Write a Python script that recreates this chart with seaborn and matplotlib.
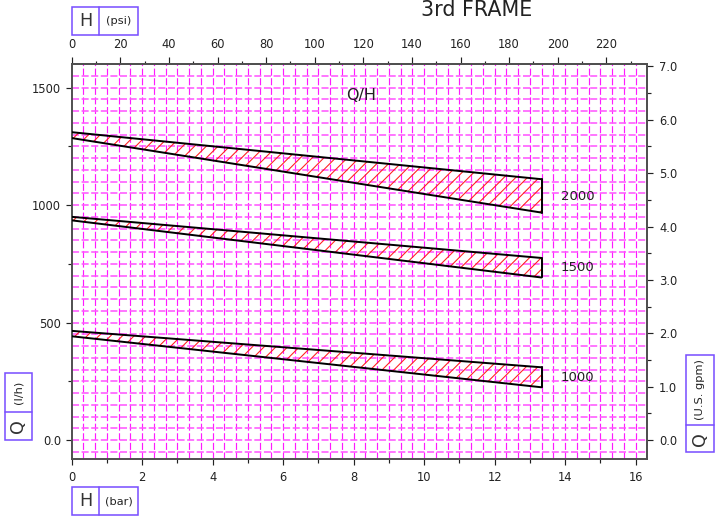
import numpy as np
import pandas as pd
import matplotlib
matplotlib.use("Agg")
import matplotlib.pyplot as plt
from matplotlib.patches import Rectangle
from matplotlib.lines import Line2D
from matplotlib.ticker import MultipleLocator, FuncFormatter
import seaborn as sns

# ---------------- data ----------------
curve_labels = ["2000", "1500", "1000"]
bar_start = [0.0, 0.0, 0.0]
bar_end = [13.33, 13.33, 13.33]
upper_start = [1310, 950, 465]
upper_end = [1110, 775, 310]
lower_start = [1285, 935, 442]
lower_end = [968, 692, 225]
label_bar = [14.35, 14.35, 14.35]
label_lph = [1035, 736, 268]

PSI_PER_BAR = 14.5038
LPH_PER_GPM = 227.1247

# ---------------- style ----------------
sns.set_style("white")
plt.rcParams["font.family"] = ["DejaVu Sans"]
plt.rcParams["hatch.color"] = "#ff2020"
plt.rcParams["hatch.linewidth"] = 0.55
plt.rcParams["lines.scale_dashes"] = False

W, H, DPI = 715, 516, 141
fig = plt.figure(figsize=(W / DPI, H / DPI), dpi=DPI)
fig.patch.set_facecolor("white")

def fx(x):
    return x / W

def fy(y):
    return 1 - y / H

L, R, T, B = 71.7, 647.3, 64.0, 459.0
ax = fig.add_axes([fx(L), fy(B), (R - L) / W, (B - T) / H])
ax.set_facecolor("white")
ax.set_xlim(0, 16.33)
ax.set_ylim(-80, 1600)

# grid (magenta dashed)
grid_color_v = "#ff1aff"
grid_color_h = "#ff55ff"
dash = (0, (3.6, 1.3))
ax.vlines(np.arange(1 / 3, 16.33, 1 / 3), -80, 1600, colors=grid_color_v,
          linewidth=0.6, linestyles=[dash], zorder=1)
ax.hlines(np.arange(-50, 1600, 50), 0, 16.33, colors=grid_color_h,
          linewidth=0.8, linestyles=[dash], zorder=1)

# bands
for i, lab in enumerate(curve_labels):
    xs = [bar_start[i], bar_end[i]]
    up = [upper_start[i], upper_end[i]]
    lo = [lower_start[i], lower_end[i]]
    ax.fill_between(xs, lo, up, facecolor="none", edgecolor="#ff2020",
                    hatch="////", linewidth=0, zorder=2)
    df_up = pd.DataFrame({"bar": xs, "lph": up})
    df_lo = pd.DataFrame({"bar": xs, "lph": lo})
    df_end = pd.DataFrame({"bar": [bar_end[i], bar_end[i]], "lph": [lo[1], up[1]]})
    for d in (df_up, df_lo, df_end):
        sns.lineplot(data=d, x="bar", y="lph", ax=ax, color="black",
                     linewidth=1.0, sort=False, estimator=None, zorder=3)
    ax.text(label_bar[i], label_lph[i], lab, ha="center", va="center",
            fontsize=6.8, color="#222222", zorder=4)

ax.text(8.2, 1467, "Q/H", ha="center", va="center", fontsize=8.2,
        color="#222222", zorder=4)
ax.set_xlabel("")
ax.set_ylabel("")

spine_c = "#505050"
for s in ax.spines.values():
    s.set_color(spine_c)
    s.set_linewidth(1.0)
    s.set_visible(True)

# primary axes ticks
ax.xaxis.set_major_locator(MultipleLocator(2))
ax.xaxis.set_minor_locator(MultipleLocator(1))
ax.xaxis.set_major_formatter(FuncFormatter(lambda v, p: f"{int(round(v))}"))
ax.yaxis.set_major_locator(MultipleLocator(500))
ax.yaxis.set_minor_locator(MultipleLocator(250))
ax.yaxis.set_major_formatter(FuncFormatter(lambda v, p: "0.0" if abs(v) < 1e-9 else f"{int(round(v))}"))
ax.tick_params(axis="both", which="major", direction="out", length=3.0,
               width=0.6, color="#222222", labelsize=5.9, labelcolor="#222222",
               pad=2.5, bottom=True, left=True, top=False, right=False)
ax.tick_params(axis="both", which="minor", direction="out", length=2.0,
               width=0.6, color="#222222", bottom=True, left=True, top=False, right=False)
ax.tick_params(axis="x", which="major", pad=3.2)

# secondary axes
secx = ax.secondary_xaxis("top", functions=(lambda b: b * PSI_PER_BAR,
                                             lambda p: p / PSI_PER_BAR))
secx.xaxis.set_major_locator(MultipleLocator(20))
secx.xaxis.set_minor_locator(MultipleLocator(10))
secx.xaxis.set_major_formatter(FuncFormatter(lambda v, p: f"{int(round(v))}"))
secx.tick_params(axis="x", which="major", direction="out", length=3.4, width=0.6,
                 color="#222222", labelsize=5.9, labelcolor="#222222", pad=3.0)
secx.tick_params(axis="x", which="minor", direction="out", length=1.7, width=0.6,
                 color="#222222")
for s in secx.spines.values():
    s.set_color(spine_c)
    s.set_linewidth(1.0)

secy = ax.secondary_yaxis("right", functions=(lambda q: q / LPH_PER_GPM,
                                               lambda g: g * LPH_PER_GPM))
secy.yaxis.set_major_locator(MultipleLocator(1.0))
secy.yaxis.set_minor_locator(MultipleLocator(0.5))
secy.yaxis.set_major_formatter(FuncFormatter(lambda v, p: f"{v:.1f}"))
secy.tick_params(axis="y", which="major", direction="out", length=3.0, width=0.6,
                 color="#222222", labelsize=5.9, labelcolor="#222222", pad=3.0)
secy.tick_params(axis="y", which="minor", direction="out", length=2.0, width=0.6,
                 color="#222222")
for s in secy.spines.values():
    s.set_color(spine_c)
    s.set_linewidth(1.0)

# title
fig.text(fx(477), fy(9.5), "3rd FRAME", ha="center", va="center",
         fontsize=10.5, color="#222222")

# unit boxes
box_c = "#7a50ff"

def box(x0, y0, x1, y1):
    fig.patches.append(Rectangle((fx(x0), fy(y1)), fx(x1) - fx(x0), fy(y0) - fy(y1),
                                 transform=fig.transFigure, fill=False,
                                 edgecolor=box_c, linewidth=0.8))

def seg(x0, y0, x1, y1):
    fig.lines.append(Line2D([fx(x0), fx(x1)], [fy(y0), fy(y1)],
                            transform=fig.transFigure, color=box_c, linewidth=0.8))

# top H (psi)
box(71.7, 7.3, 138.3, 35)
seg(99.3, 7.3, 99.3, 35)
fig.text(fx(85.5), fy(21.2), "H", ha="center", va="center", fontsize=9, color="#333333")
fig.text(fx(118.8), fy(21.2), "(psi)", ha="center", va="center", fontsize=5.8, color="#222222")

# bottom H (bar)
box(71.7, 486.7, 138.3, 515)
seg(99.3, 486.7, 99.3, 515)
fig.text(fx(85.5), fy(501), "H", ha="center", va="center", fontsize=9, color="#333333")
fig.text(fx(118.8), fy(501), "(bar)", ha="center", va="center", fontsize=5.8, color="#222222")

# left Q (l/h)
box(4.7, 373.3, 32.3, 440)
seg(4.7, 412.3, 32.3, 412.3)
fig.text(fx(18.5), fy(426.2), "Q", ha="center", va="center", fontsize=9,
         rotation=90, color="#333333")
fig.text(fx(18.5), fy(392.8), "(l/h)", ha="center", va="center", fontsize=5.8,
         rotation=90, color="#222222")

# right Q (U.S. gpm)
box(686, 354.7, 713.7, 452.3)
seg(686, 425, 713.7, 425)
fig.text(fx(699.8), fy(438.7), "Q", ha="center", va="center", fontsize=9,
         rotation=90, color="#333333")
fig.text(fx(699.8), fy(389.8), "(U.S. gpm)", ha="center", va="center", fontsize=5.8,
         rotation=90, color="#222222")

fig.savefig("out.png", dpi=DPI, facecolor="white")
